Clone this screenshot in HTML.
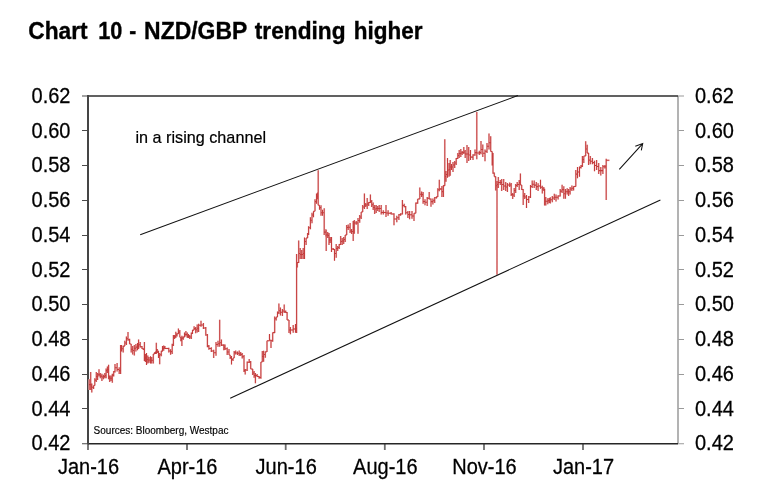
<!DOCTYPE html>
<html><head><meta charset="utf-8"><title>Chart 10 - NZD/GBP trending higher</title>
<style>
html,body{margin:0;padding:0;background:#fff;}
body{width:774px;height:502px;overflow:hidden;}
svg{display:block;will-change:transform;}
.t{font-family:"Liberation Sans",Arial,sans-serif;}
</style></head>
<body>
<svg width="774" height="502" viewBox="0 0 774 502">
<rect width="774" height="502" fill="#fff"/>
<g class="t" font-size="23.5" font-weight="bold" fill="#000" stroke="#000" stroke-width="0.35"><text x="28.3" y="38.7" textLength="59.4" lengthAdjust="spacingAndGlyphs">Chart</text><text x="98.2" y="38.7" textLength="24.1" lengthAdjust="spacingAndGlyphs">10</text><text x="129.2" y="38.7" textLength="7.0" lengthAdjust="spacingAndGlyphs">-</text><text x="144.1" y="38.7" textLength="103.2" lengthAdjust="spacingAndGlyphs">NZD/GBP</text><text x="254.8" y="38.7" textLength="90.7" lengthAdjust="spacingAndGlyphs">trending</text><text x="353.7" y="38.7" textLength="68.8" lengthAdjust="spacingAndGlyphs">higher</text></g>
<g fill="none" stroke-linecap="butt">
<path d="M82 96H88M82 130.5H88M82 165.5H88M82 200.5H88M82 235.5H88M82 269.5H88M82 304.5H88M82 339.5H88M82 374.5H88M82 408.5H88M82 443.7H88" stroke="#4a4a4a" stroke-width="1.1"/>
<path d="M678 96H684M678 130.5H684M678 165.5H684M678 200.5H684M678 235.5H684M678 269.5H684M678 304.5H684M678 339.5H684M678 374.5H684M678 408.5H684M678 443.7H684" stroke="#9a9a9a" stroke-width="1.1"/>
<path d="M88 443.5V450M187 443.5V450M285.7 443.5V450M384.8 443.5V450M484 443.5V450M583 443.5V450" stroke="#6e6e6e" stroke-width="1.8"/>
<path d="M678 96V443.5" stroke="#a6a6a6" stroke-width="1.7"/>
<path d="M88 96H678" stroke="#2c2c2c" stroke-width="1.7"/>
<path d="M88 443.7H678" stroke="#262626" stroke-width="1.4"/>
<path d="M88 95V444.3" stroke="#454545" stroke-width="2"/>
</g>
<g class="t" font-size="20" fill="#000" stroke="#000" stroke-width="0.25">
<text x="70.5" y="102.8" transform="matrix(1 0 0 1.07 0 -7.2)" text-anchor="end">0.62</text>
<text x="70.5" y="137.6" transform="matrix(1 0 0 1.07 0 -9.6)" text-anchor="end">0.60</text>
<text x="70.5" y="172.3" transform="matrix(1 0 0 1.07 0 -12.1)" text-anchor="end">0.58</text>
<text x="70.5" y="207.1" transform="matrix(1 0 0 1.07 0 -14.5)" text-anchor="end">0.56</text>
<text x="70.5" y="241.8" transform="matrix(1 0 0 1.07 0 -16.9)" text-anchor="end">0.54</text>
<text x="70.5" y="276.6" transform="matrix(1 0 0 1.07 0 -19.4)" text-anchor="end">0.52</text>
<text x="70.5" y="311.3" transform="matrix(1 0 0 1.07 0 -21.8)" text-anchor="end">0.50</text>
<text x="70.5" y="346.1" transform="matrix(1 0 0 1.07 0 -24.2)" text-anchor="end">0.48</text>
<text x="70.5" y="380.8" transform="matrix(1 0 0 1.07 0 -26.7)" text-anchor="end">0.46</text>
<text x="70.5" y="415.6" transform="matrix(1 0 0 1.07 0 -29.1)" text-anchor="end">0.44</text>
<text x="70.5" y="450.3" transform="matrix(1 0 0 1.07 0 -31.5)" text-anchor="end">0.42</text>
<text x="695" y="102.8" transform="matrix(1 0 0 1.07 0 -7.2)">0.62</text>
<text x="695" y="137.6" transform="matrix(1 0 0 1.07 0 -9.6)">0.60</text>
<text x="695" y="172.3" transform="matrix(1 0 0 1.07 0 -12.1)">0.58</text>
<text x="695" y="207.1" transform="matrix(1 0 0 1.07 0 -14.5)">0.56</text>
<text x="695" y="241.8" transform="matrix(1 0 0 1.07 0 -16.9)">0.54</text>
<text x="695" y="276.6" transform="matrix(1 0 0 1.07 0 -19.4)">0.52</text>
<text x="695" y="311.3" transform="matrix(1 0 0 1.07 0 -21.8)">0.50</text>
<text x="695" y="346.1" transform="matrix(1 0 0 1.07 0 -24.2)">0.48</text>
<text x="695" y="380.8" transform="matrix(1 0 0 1.07 0 -26.7)">0.46</text>
<text x="695" y="415.6" transform="matrix(1 0 0 1.07 0 -29.1)">0.44</text>
<text x="695" y="450.3" transform="matrix(1 0 0 1.07 0 -31.5)">0.42</text>
<text x="88.5" y="473.5" transform="matrix(1 0 0 1.07 0 -33.1)" text-anchor="middle">Jan-16</text>
<text x="187.5" y="473.5" transform="matrix(1 0 0 1.07 0 -33.1)" text-anchor="middle">Apr-16</text>
<text x="286.2" y="473.5" transform="matrix(1 0 0 1.07 0 -33.1)" text-anchor="middle">Jun-16</text>
<text x="385.3" y="473.5" transform="matrix(1 0 0 1.07 0 -33.1)" text-anchor="middle">Aug-16</text>
<text x="484.5" y="473.5" transform="matrix(1 0 0 1.07 0 -33.1)" text-anchor="middle">Nov-16</text>
<text x="583.5" y="473.5" transform="matrix(1 0 0 1.07 0 -33.1)" text-anchor="middle">Jan-17</text>
</g>
<text class="t" x="135.5" y="143.2" font-size="16.2" fill="#000" stroke="#000" stroke-width="0.2">in a rising channel</text>
<text class="t" x="93.6" y="434" font-size="10" fill="#000" stroke="#000" stroke-width="0.15">Sources: Bloomberg, Westpac</text>
<path d="M89.2 379.2V390M89.2 384.6H90.7M90.7 372V390M90.7 386.8H91.8M91.8 383.6V392.6M91.8 387.2H93.6M93.6 385.4V389M93.6 385.4H94.8M94.8 378.3V385.4M94.8 380.1H96.3M96.3 372V381.9M96.3 376.4H97.6M97.6 372.9V380M97.6 374.7H99M99 369.3V376.5M99 374.7H100.3M100.3 372.9V378.3M100.3 376.1H101.9M101.9 373.8V381M101.9 376.9H103.4M103.4 374.7V379.2M103.4 376.5H104.8M104.8 372.9V378.3M104.8 375.6H106.1M106.1 368.4V378.3M106.1 370.6H107.4M107.4 366.6V372.9M107.4 369.8H108.6M108.6 364.8V379.2M108.6 377.4H109.7M109.7 375.6V381.9M109.7 378.3H111M111 375.6V381M111 378.3H112.3M112.3 373.8V382.8M112.3 375.1H113.7M113.7 371.1V376.5M113.7 371.8H115M115 364.1V372.5M115 367.8H117.1M117.1 363V371.5M117.1 369.4H119.2M119.2 367.2V374.1M119.2 370.6H120.6M120.6 345.1V374.1M120.6 348.2H121.6M121.6 345.1V351.4M121.6 348.8H123.2M123.2 346.1V352.5M123.2 346.1H124.8M124.8 340.8V346.1M124.8 343H126.4M126.4 336.6V345.1M126.4 338.7H128M128 331.9V340.8M128 339.8H129.6M129.6 338.7V344M129.6 344H131.2M131.2 344V352.5M131.2 349.3H132.7M132.7 346.1V354.6M132.7 350.4H134.3M134.3 345.1V355.6M134.3 348.2H135.9M135.9 344V351.4M135.9 347.1H137.5M137.5 343V350.3M137.5 346.1H138.6M138.6 339.6V349.1M138.6 344.8H140.2M140.2 342V347.5M140.2 346.8H142M142 346V349.1M142 348.7H143.6M143.6 348.3V350M143.6 349.1H144.4M144.4 342V361.1M144.4 357.5H145.4M145.4 353.9V361.9M145.4 357.9H146.5M146.5 353.1V365M146.5 359.5H147.8M147.8 355.5V363.5M147.8 359.9H149M149 357.1V362.7M149 359.9H150.5M150.5 356.3V363.5M150.5 360.3H151.7M151.7 357.1V363.5M151.7 360.3H153.3M153.3 353.9V363.5M153.3 353.9H154.5M154.5 352.3V353.9M154.5 353.1H155.5M155.5 351.5V353.9M155.5 352.7H156.3M156.3 342.7V353.9M156.3 351.1H157.3M157.3 349.1V353.1M157.3 351.9H158.5M158.5 350.7V357.9M158.5 355.5H159.7M159.7 353.1V364.3M159.7 354.7H161.3M161.3 350.7V356.3M161.3 351.1H162.5M162.5 346V351.5M162.5 348.4H163.7M163.7 345.5V350.7M163.7 347.6H164.9M164.9 346V349.1M164.9 348.4H168.8M168.8 347.7V352.5M168.8 350.9H170.6M170.6 349.3V354.8M170.6 351.6H172.2M172.2 343.7V354M172.2 344.9H173.4M173.4 334.9V346.1M173.4 336.9H174.6M174.6 334.9V338.9M174.6 336.5H175.8M175.8 331.7V338.1M175.8 334.9H177M177 333.3V336.5M177 333.7H178.4M178.4 328.5V334.1M178.4 332.1H179.8M179.8 330.1V337.3M179.8 337.3H180.8M180.8 337.3V341.3M180.8 339.3H181.9M181.9 335.7V346.1M181.9 338.1H183.3M183.3 336.5V339.7M183.3 336.9H184.5M184.5 332.5V337.3M184.5 334.5H185.9M185.9 330.9V336.5M185.9 334.5H187.3M187.3 332.5V338.1M187.3 336.1H188.5M188.5 334.1V338.1M188.5 336.5H189.7M189.7 334.9V338.9M189.7 336.9H191.3M191.3 332.5V338.9M191.3 333.3H192.5M192.5 330.1V334.1M192.5 330.1H194.1M194.1 326.2V330.1M194.1 328.6H195.7M195.7 327V333.3M195.7 329.8H197.2M197.2 324.6V332.5M197.2 328.3H198.6M198.6 323.8V332M198.6 325.2H201M201 320.8V326.7M201 324.9H203.4M203.4 323V329M203.4 328H205.8M205.8 327V335.7M205.8 334.9H207.4M207.4 334V347.3M207.4 346.1H208.9M208.9 345V349.7M208.9 348.5H211.3M211.3 347.3V352M211.3 350.9H213.7M213.7 349.7V358M213.7 352.7H216M216 342V355.7M216 344.4H218M218 340.7V346.7M218 343.7H219.7M219.7 319.8V346.7M219.7 342.8H221.4M221.4 339.5V346M221.4 345.1H223.8M223.8 344.3V350.3M223.8 347.2H225M225 344.5V350M225 348.8H227.2M227.2 347.5V355M227.2 352H229M229 349V355M230.2 355V359M229 355H230.2M230.2 356V359M230.2 357.5H231.5M231.5 356V364.4M231.5 359.5H233M233 358V361M234.2 351V358M233 358H234.2M234.2 351V356M234.2 352.8H235.7M235.7 350.5V354.5M235.7 353H237.5M237.5 351.5V355M237.5 353.2H239.2M239.2 350.5V356M239.2 354H240.7M240.7 352V356M240.7 354.5H242.2M242.2 353V358.4M242.2 356.7H244M244 355V372M244 370.5H245.2M245.2 369V374.4M245.2 370H247.2M247.2 361.4V371M247.2 362.2H249.2M249.2 359V363M249.2 362H250.7M250.7 361V369M250.7 369H252.7M252.7 369V375M252.7 373H254.1M254.1 371V377.8M254.1 375.4H255.4M255.4 373V383.3M255.4 375.4H257.1M257.1 373.9V376.9M257.1 376.4H259.1M259.1 375.9V378.8M259.1 377.4H260.9M260.9 362V378.8M260.9 362H262.3M262.3 351V362M262.3 356.4H263.6M263.6 350.7V361.8M263.6 354.5H265.3M265.3 351.4V357.7M265.3 351.7H267M267 340.8V352M267 340.8H269.5M269.5 333.9V340.8M269.5 340.3H271M271 339.8V348M271 340.8H272.7M272.7 332.4V341.8M272.7 332.6H274.7M274.7 316.4V332.9M274.7 318.7H276.2M276.2 317V320.4M277.5 311.4V317M276.2 317H277.5M277.5 311.4V315M277.5 312.7H278.9M278.9 303.5V314M278.9 310.8H280.4M280.4 307.5V315.4M280.4 312.2H282.4M282.4 309V316M282.4 311H284.2M284.2 304.5V313M284.2 311.8H285.7M285.7 310.5V313M285.7 312.5H287.1M287.1 312V320M287.1 320H289M289 320V332.9M289 329.9H290.4M290.4 326.9V334.3M290.4 329.9H293.2M293.2 324.9V332.8M293.2 328.9H295.5M295.5 323.9V332.8M295.5 328.4H296.6M296.6 253.9V333M296.6 264.7H297.3M297.3 262V267.4M297.3 262.4H298.7M298.7 240.5V262.9M298.7 253.4H300.2M300.2 248V258.9M300.2 254.4H301.7M301.7 250V258.9M301.7 254.4H303.2M303.2 248V258.9M303.2 253.4H304.5M304.5 237.5V258.9M304.5 241.5H306.1M306.1 238V245M306.1 238H307.6M307.6 233V238M307.6 234H308.6M308.6 226.2V235M308.6 227.7H310.4M310.4 217.2V229.2M310.4 220.2H312M312 212.8V223.2M312 215H313.5M313.5 211.3V217.2M315 199.3V211.3M313.5 211.3H315M315 199.3V209.8M315 201.6H316.5M316.5 193.4V203.8M316.5 196.4H317.6M317.6 192.6V199.3M317.6 195.9H318.2M318.2 170.2V205.3M318.2 205.3H319.5M319.5 205.3V209.8M319.5 207.6H321M321 205.3V215.7M321 212.8H322.5M322.5 209.8V215.7M322.5 212.8H324.2M324.2 208.3V235.1M324.2 232.1H325.9M325.9 229.2V236.6M325.9 233.3H326.2M326.2 230V250.9M326.2 234.9H327.7M327.7 232V237.9M327.7 235.4H329M329 233V244.9M329 239.9H330.2M330.2 237V242.9M330.2 239.9H331.5M331.5 237V251.9M331.5 248.9H333.2M333.2 247.9V249.9M333.2 249.4H334.5M334.5 248.9V260.8M334.5 253.4H336.2M336.2 243.9V257.8M336.2 248.4H337.7M337.7 245.9V250.9M337.7 247.4H339.2M339.2 243.9V248.9M339.2 244.4H340.7M340.7 236V244.9M340.7 241.4H342.2M342.2 237.9V244.9M342.2 240.9H343.7M343.7 237V243.9M343.7 239.4H345.2M345.2 235V241.9M346.7 225V235M345.2 235H346.7M346.7 225V232.9M346.7 227.5H348.2M348.2 224.5V230M348.2 227.2H350.1M350.1 223V232.9M350.1 230.9H351.6M351.6 229V234M351.6 231.5H353.2M353.2 221V240.9M353.2 227.4H354.3M354.3 219.9V233.8M354.3 222.9H356.2M356.2 220.9V224.8M356.2 222.9H358M358 217.9V233.8M358 220.4H359.7M359.7 214.9V222.8M359.7 216.9H361.2M361.2 211.9V218.9M361.2 211.9H362.7M362.7 204.9V211.9M362.7 206.9H364.4M364.4 193.5V208.9M364.4 204.9H365.7M365.7 202.9V206.9M365.7 204.9H367.2M367.2 197.9V208.9M367.2 203.9H368.7M368.7 201.9V205.9M368.7 202.4H370.4M370.4 194.5V202.9M370.4 201.4H371.7M371.7 199.9V206.9M371.7 204.7H373.2M373.2 202.4V209.9M373.2 207.4H374.7M374.7 204.9V213.9M374.7 208.9H376.2M376.2 204.9V212.9M376.2 208.4H377.7M377.7 205.9V210.9M377.7 208.4H379.2M379.2 204.9V211.9M379.2 208.4H381.2M381.2 205V214.6M381.2 212.4H383.3M383.3 210.3V214.5M383.3 212.4H386M386 204.9V216.9M386 213H388.1M388.1 210.3V215.7M388.1 213.2H391.1M391.1 212V214.5M391.1 213.9H394M394 213.3V225.2M394 218.9H396.8M396.8 215.7V222.2M396.8 217.8H398.9M398.9 213.9V219.9M398.9 214.8H400.6M400.6 213.3V215.7M400.6 213.9H402.4M402.4 200V214.5M402.4 205.5H404.2M404.2 203.7V207.3M404.2 206.7H405.7M405.7 206V214.5M405.7 212.7H407.9M407.9 210.9V218M407.9 214.4H409.6M409.6 210.9V219.3M409.6 214.8H412M412 210.9V218.7M412 216H414M414 213.3V221M414 213.3H415.8M415.8 202.5V213.3M415.8 203.1H417.7M417.7 199V203.7M417.7 199H419.8M419.8 187.6V199M419.8 194.3H421.6M421.6 191.6V197.1M421.6 194.6H423.1M423.1 192V203.7M423.1 201.5H425M425 199.3V205.2M425 202.2H427.2M427.2 197.1V206M427.2 198.2H429.2M429.2 192V199.3M429.2 198.9H431M431 198.6V206.7M431 201.6H432.9M432.9 198.6V204.5M432.9 200.8H434.7M434.7 197.1V203M434.7 197.8H436.5M436.5 196.4V198.6M436.5 196.8H437.8M437.8 188.3V197.1M437.8 189.8H439.3M439.3 179.8V191.2M439.3 189H440.6M440.6 188.3V189.7M440.6 189H441.9M441.9 186.1V197.1M441.9 191.6H443.4M443.4 185.3V197.1M443.4 185.6H444.8M444.8 139.3V185.8M444.8 176.4H446M446 170.9V181.8M446 174.4H447.5M447.5 157.9V177.8M447.5 169.9H449M449 162.9V176.8M449 169.4H450.2M450.2 160V175.8M450.2 166.9H451.5M451.5 163.9V169.9M451.5 166.9H453M453 161.9V171.9M453 164.9H454.7M454.7 160.9V167.9M454.7 162.9H456.2M456.2 157.9V164.9M456.2 158.4H457.8M457.8 152.9V158.9M457.8 155.4H459.2M459.2 150V157.9M459.2 153.4H460.8M460.8 149V156.9M460.8 153H462.2M462.2 151V155M462.2 152.5H463.8M463.8 147V154M463.8 152H465.2M465.2 150V157.9M465.2 153.9H467M467 145V162.9M467 153.9H468.7M468.7 147V160.9M468.7 155H470.5M470.5 150V160M470.5 157.1H473M473 154.3V159.9M473 155H475M475 149.4V155.7M475 152.6H476.8M476.8 112V159.2M476.8 152.9H479.3M479.3 150.8V155M479.3 152.6H481M481 141V154.3M481 149.4H482.8M482.8 144.5V157.1M482.8 153.2H485M485 149.4V161.3M485 151.2H487M487 143.1V152.9M487 146.2H489M489 133.4V149.4M489 142.8H490.7M490.7 136.2V151.5M490.7 151.5H492.2M492.2 151.5V165.4M492.2 159.2H493M493 152.9V173.8M493 173.1H494.3M494.3 172.4V176.6M494.3 176.6H495.7M495.7 176.6V190.5M495.7 185.8H497M497 181V274.8M497 184.5H498.3M498.3 177V188M498.3 182.5H500.3M500.3 180V185M500.3 182.5H501.7M501.7 179V191M501.7 184.5H503.7M503.7 179V190M503.7 186H505.7M505.7 182V191M505.7 187H507.4M507.4 183V192M507.4 185H509.7M509.7 182.4V187M509.7 185H511.2M511.2 183V196M511.2 194.5H512.7M512.7 193V199M512.7 195H514.2M514.2 188V197M514.2 190.5H515.7M515.7 184V193M515.7 185.5H517.2M517.2 182V187M517.2 184.5H519.2M519.2 180V190M519.2 182.5H520.4M520.4 173.5V185M520.4 185H521.7M521.7 185V190M521.7 189.5H523.2M523.2 189V205M523.2 196H524.7M524.7 193V199M524.7 197H526.5M526.5 195V208M526.5 199.5H528.7M528.7 196V203M528.7 197H530.5M530.5 185V198M530.5 186.5H532.2M532.2 180.5V188M532.2 184.2H534.2M534.2 180.5V188M534.2 185.1H536.3M536.3 182.1V189.9M536.3 186.6H538.1M538.1 183.3V191.1M538.1 186H540.5M540.5 179.7V188.7M540.5 187.2H542.3M542.3 185.7V193.5M542.3 189H543.8M543.8 186.9V191.1M543.8 189.9H544.6M544.6 188.7V205.5M544.6 201.2H545.8M545.8 197V205.5M545.8 201.3H547.8M547.8 198.3V204.3M547.8 200.6H549.2M549.2 198V202.9M549.2 200.4H550.3M550.3 197.3V203.6M550.3 199.8H552.3M552.3 195.9V202.2M552.3 198H554.3M554.3 193.8V200.1M554.3 197.3H556M556 194.5V201.5M556 197.3H558.1M558.1 195.2V199.4M558.1 195.9H560.2M560.2 189V196.6M560.2 191.1H562.1M562.1 184.8V193.1M562.1 189.6H563.8M563.8 186.2V198.7M563.8 193.8H565.4M565.4 189V198.7M565.4 191.8H567.2M567.2 188.3V194.5M567.2 191.8H568.6M568.6 189V195.9M568.6 191.8H570.1M570.1 186.9V194.5M570.1 189H571.9M571.9 185.5V191.1M571.9 188.3H573.6M573.6 186.2V190.4M573.6 186.4H575.8M575.8 169.9V186.6M575.8 174.1H577.5M577.5 167.1V178.2M577.5 171.9H579.5M579.5 166.4V176.8M579.5 167.4H581M581 165V168.5M581 166.1H582.4M582.4 155.9V167.1M582.4 159.4H583.8M583.8 155.9V162.9M585.7 141.3V155.9M583.8 155.9H585.7M585.7 141.3V153.1M585.7 148.9H587.2M587.2 144.8V153.1M588.6 153.1V165M587.2 153.1H588.6M588.6 154.5V165M588.6 160.1H590.3M590.3 155.9V164.3M590.3 161.2H592.4M592.4 158V164.3M592.4 162.6H594.5M594.5 160.8V171.3M594.5 165.4H596.6M596.6 160.1V169.9M596.6 166.4H598.7M598.7 162.9V174.1M598.7 170.6H600.8M600.8 167.1V175.4M600.8 170.6H602.9M602.9 165V174.1M602.9 166.8H604.9M604.9 165V168.5M604.9 166.8H606.2M606.2 158.7V199.9M606.2 160.3H609.4" fill="none" stroke="#f4cccc" stroke-width="1.8" stroke-linejoin="miter"/>
<path d="M89.2 379.2V390M89.2 384.6H90.7M90.7 372V390M90.7 386.8H91.8M91.8 383.6V392.6M91.8 387.2H93.6M93.6 385.4V389M93.6 385.4H94.8M94.8 378.3V385.4M94.8 380.1H96.3M96.3 372V381.9M96.3 376.4H97.6M97.6 372.9V380M97.6 374.7H99M99 369.3V376.5M99 374.7H100.3M100.3 372.9V378.3M100.3 376.1H101.9M101.9 373.8V381M101.9 376.9H103.4M103.4 374.7V379.2M103.4 376.5H104.8M104.8 372.9V378.3M104.8 375.6H106.1M106.1 368.4V378.3M106.1 370.6H107.4M107.4 366.6V372.9M107.4 369.8H108.6M108.6 364.8V379.2M108.6 377.4H109.7M109.7 375.6V381.9M109.7 378.3H111M111 375.6V381M111 378.3H112.3M112.3 373.8V382.8M112.3 375.1H113.7M113.7 371.1V376.5M113.7 371.8H115M115 364.1V372.5M115 367.8H117.1M117.1 363V371.5M117.1 369.4H119.2M119.2 367.2V374.1M119.2 370.6H120.6M120.6 345.1V374.1M120.6 348.2H121.6M121.6 345.1V351.4M121.6 348.8H123.2M123.2 346.1V352.5M123.2 346.1H124.8M124.8 340.8V346.1M124.8 343H126.4M126.4 336.6V345.1M126.4 338.7H128M128 331.9V340.8M128 339.8H129.6M129.6 338.7V344M129.6 344H131.2M131.2 344V352.5M131.2 349.3H132.7M132.7 346.1V354.6M132.7 350.4H134.3M134.3 345.1V355.6M134.3 348.2H135.9M135.9 344V351.4M135.9 347.1H137.5M137.5 343V350.3M137.5 346.1H138.6M138.6 339.6V349.1M138.6 344.8H140.2M140.2 342V347.5M140.2 346.8H142M142 346V349.1M142 348.7H143.6M143.6 348.3V350M143.6 349.1H144.4M144.4 342V361.1M144.4 357.5H145.4M145.4 353.9V361.9M145.4 357.9H146.5M146.5 353.1V365M146.5 359.5H147.8M147.8 355.5V363.5M147.8 359.9H149M149 357.1V362.7M149 359.9H150.5M150.5 356.3V363.5M150.5 360.3H151.7M151.7 357.1V363.5M151.7 360.3H153.3M153.3 353.9V363.5M153.3 353.9H154.5M154.5 352.3V353.9M154.5 353.1H155.5M155.5 351.5V353.9M155.5 352.7H156.3M156.3 342.7V353.9M156.3 351.1H157.3M157.3 349.1V353.1M157.3 351.9H158.5M158.5 350.7V357.9M158.5 355.5H159.7M159.7 353.1V364.3M159.7 354.7H161.3M161.3 350.7V356.3M161.3 351.1H162.5M162.5 346V351.5M162.5 348.4H163.7M163.7 345.5V350.7M163.7 347.6H164.9M164.9 346V349.1M164.9 348.4H168.8M168.8 347.7V352.5M168.8 350.9H170.6M170.6 349.3V354.8M170.6 351.6H172.2M172.2 343.7V354M172.2 344.9H173.4M173.4 334.9V346.1M173.4 336.9H174.6M174.6 334.9V338.9M174.6 336.5H175.8M175.8 331.7V338.1M175.8 334.9H177M177 333.3V336.5M177 333.7H178.4M178.4 328.5V334.1M178.4 332.1H179.8M179.8 330.1V337.3M179.8 337.3H180.8M180.8 337.3V341.3M180.8 339.3H181.9M181.9 335.7V346.1M181.9 338.1H183.3M183.3 336.5V339.7M183.3 336.9H184.5M184.5 332.5V337.3M184.5 334.5H185.9M185.9 330.9V336.5M185.9 334.5H187.3M187.3 332.5V338.1M187.3 336.1H188.5M188.5 334.1V338.1M188.5 336.5H189.7M189.7 334.9V338.9M189.7 336.9H191.3M191.3 332.5V338.9M191.3 333.3H192.5M192.5 330.1V334.1M192.5 330.1H194.1M194.1 326.2V330.1M194.1 328.6H195.7M195.7 327V333.3M195.7 329.8H197.2M197.2 324.6V332.5M197.2 328.3H198.6M198.6 323.8V332M198.6 325.2H201M201 320.8V326.7M201 324.9H203.4M203.4 323V329M203.4 328H205.8M205.8 327V335.7M205.8 334.9H207.4M207.4 334V347.3M207.4 346.1H208.9M208.9 345V349.7M208.9 348.5H211.3M211.3 347.3V352M211.3 350.9H213.7M213.7 349.7V358M213.7 352.7H216M216 342V355.7M216 344.4H218M218 340.7V346.7M218 343.7H219.7M219.7 319.8V346.7M219.7 342.8H221.4M221.4 339.5V346M221.4 345.1H223.8M223.8 344.3V350.3M223.8 347.2H225M225 344.5V350M225 348.8H227.2M227.2 347.5V355M227.2 352H229M229 349V355M230.2 355V359M229 355H230.2M230.2 356V359M230.2 357.5H231.5M231.5 356V364.4M231.5 359.5H233M233 358V361M234.2 351V358M233 358H234.2M234.2 351V356M234.2 352.8H235.7M235.7 350.5V354.5M235.7 353H237.5M237.5 351.5V355M237.5 353.2H239.2M239.2 350.5V356M239.2 354H240.7M240.7 352V356M240.7 354.5H242.2M242.2 353V358.4M242.2 356.7H244M244 355V372M244 370.5H245.2M245.2 369V374.4M245.2 370H247.2M247.2 361.4V371M247.2 362.2H249.2M249.2 359V363M249.2 362H250.7M250.7 361V369M250.7 369H252.7M252.7 369V375M252.7 373H254.1M254.1 371V377.8M254.1 375.4H255.4M255.4 373V383.3M255.4 375.4H257.1M257.1 373.9V376.9M257.1 376.4H259.1M259.1 375.9V378.8M259.1 377.4H260.9M260.9 362V378.8M260.9 362H262.3M262.3 351V362M262.3 356.4H263.6M263.6 350.7V361.8M263.6 354.5H265.3M265.3 351.4V357.7M265.3 351.7H267M267 340.8V352M267 340.8H269.5M269.5 333.9V340.8M269.5 340.3H271M271 339.8V348M271 340.8H272.7M272.7 332.4V341.8M272.7 332.6H274.7M274.7 316.4V332.9M274.7 318.7H276.2M276.2 317V320.4M277.5 311.4V317M276.2 317H277.5M277.5 311.4V315M277.5 312.7H278.9M278.9 303.5V314M278.9 310.8H280.4M280.4 307.5V315.4M280.4 312.2H282.4M282.4 309V316M282.4 311H284.2M284.2 304.5V313M284.2 311.8H285.7M285.7 310.5V313M285.7 312.5H287.1M287.1 312V320M287.1 320H289M289 320V332.9M289 329.9H290.4M290.4 326.9V334.3M290.4 329.9H293.2M293.2 324.9V332.8M293.2 328.9H295.5M295.5 323.9V332.8M295.5 328.4H296.6M296.6 253.9V333M296.6 264.7H297.3M297.3 262V267.4M297.3 262.4H298.7M298.7 240.5V262.9M298.7 253.4H300.2M300.2 248V258.9M300.2 254.4H301.7M301.7 250V258.9M301.7 254.4H303.2M303.2 248V258.9M303.2 253.4H304.5M304.5 237.5V258.9M304.5 241.5H306.1M306.1 238V245M306.1 238H307.6M307.6 233V238M307.6 234H308.6M308.6 226.2V235M308.6 227.7H310.4M310.4 217.2V229.2M310.4 220.2H312M312 212.8V223.2M312 215H313.5M313.5 211.3V217.2M315 199.3V211.3M313.5 211.3H315M315 199.3V209.8M315 201.6H316.5M316.5 193.4V203.8M316.5 196.4H317.6M317.6 192.6V199.3M317.6 195.9H318.2M318.2 170.2V205.3M318.2 205.3H319.5M319.5 205.3V209.8M319.5 207.6H321M321 205.3V215.7M321 212.8H322.5M322.5 209.8V215.7M322.5 212.8H324.2M324.2 208.3V235.1M324.2 232.1H325.9M325.9 229.2V236.6M325.9 233.3H326.2M326.2 230V250.9M326.2 234.9H327.7M327.7 232V237.9M327.7 235.4H329M329 233V244.9M329 239.9H330.2M330.2 237V242.9M330.2 239.9H331.5M331.5 237V251.9M331.5 248.9H333.2M333.2 247.9V249.9M333.2 249.4H334.5M334.5 248.9V260.8M334.5 253.4H336.2M336.2 243.9V257.8M336.2 248.4H337.7M337.7 245.9V250.9M337.7 247.4H339.2M339.2 243.9V248.9M339.2 244.4H340.7M340.7 236V244.9M340.7 241.4H342.2M342.2 237.9V244.9M342.2 240.9H343.7M343.7 237V243.9M343.7 239.4H345.2M345.2 235V241.9M346.7 225V235M345.2 235H346.7M346.7 225V232.9M346.7 227.5H348.2M348.2 224.5V230M348.2 227.2H350.1M350.1 223V232.9M350.1 230.9H351.6M351.6 229V234M351.6 231.5H353.2M353.2 221V240.9M353.2 227.4H354.3M354.3 219.9V233.8M354.3 222.9H356.2M356.2 220.9V224.8M356.2 222.9H358M358 217.9V233.8M358 220.4H359.7M359.7 214.9V222.8M359.7 216.9H361.2M361.2 211.9V218.9M361.2 211.9H362.7M362.7 204.9V211.9M362.7 206.9H364.4M364.4 193.5V208.9M364.4 204.9H365.7M365.7 202.9V206.9M365.7 204.9H367.2M367.2 197.9V208.9M367.2 203.9H368.7M368.7 201.9V205.9M368.7 202.4H370.4M370.4 194.5V202.9M370.4 201.4H371.7M371.7 199.9V206.9M371.7 204.7H373.2M373.2 202.4V209.9M373.2 207.4H374.7M374.7 204.9V213.9M374.7 208.9H376.2M376.2 204.9V212.9M376.2 208.4H377.7M377.7 205.9V210.9M377.7 208.4H379.2M379.2 204.9V211.9M379.2 208.4H381.2M381.2 205V214.6M381.2 212.4H383.3M383.3 210.3V214.5M383.3 212.4H386M386 204.9V216.9M386 213H388.1M388.1 210.3V215.7M388.1 213.2H391.1M391.1 212V214.5M391.1 213.9H394M394 213.3V225.2M394 218.9H396.8M396.8 215.7V222.2M396.8 217.8H398.9M398.9 213.9V219.9M398.9 214.8H400.6M400.6 213.3V215.7M400.6 213.9H402.4M402.4 200V214.5M402.4 205.5H404.2M404.2 203.7V207.3M404.2 206.7H405.7M405.7 206V214.5M405.7 212.7H407.9M407.9 210.9V218M407.9 214.4H409.6M409.6 210.9V219.3M409.6 214.8H412M412 210.9V218.7M412 216H414M414 213.3V221M414 213.3H415.8M415.8 202.5V213.3M415.8 203.1H417.7M417.7 199V203.7M417.7 199H419.8M419.8 187.6V199M419.8 194.3H421.6M421.6 191.6V197.1M421.6 194.6H423.1M423.1 192V203.7M423.1 201.5H425M425 199.3V205.2M425 202.2H427.2M427.2 197.1V206M427.2 198.2H429.2M429.2 192V199.3M429.2 198.9H431M431 198.6V206.7M431 201.6H432.9M432.9 198.6V204.5M432.9 200.8H434.7M434.7 197.1V203M434.7 197.8H436.5M436.5 196.4V198.6M436.5 196.8H437.8M437.8 188.3V197.1M437.8 189.8H439.3M439.3 179.8V191.2M439.3 189H440.6M440.6 188.3V189.7M440.6 189H441.9M441.9 186.1V197.1M441.9 191.6H443.4M443.4 185.3V197.1M443.4 185.6H444.8M444.8 139.3V185.8M444.8 176.4H446M446 170.9V181.8M446 174.4H447.5M447.5 157.9V177.8M447.5 169.9H449M449 162.9V176.8M449 169.4H450.2M450.2 160V175.8M450.2 166.9H451.5M451.5 163.9V169.9M451.5 166.9H453M453 161.9V171.9M453 164.9H454.7M454.7 160.9V167.9M454.7 162.9H456.2M456.2 157.9V164.9M456.2 158.4H457.8M457.8 152.9V158.9M457.8 155.4H459.2M459.2 150V157.9M459.2 153.4H460.8M460.8 149V156.9M460.8 153H462.2M462.2 151V155M462.2 152.5H463.8M463.8 147V154M463.8 152H465.2M465.2 150V157.9M465.2 153.9H467M467 145V162.9M467 153.9H468.7M468.7 147V160.9M468.7 155H470.5M470.5 150V160M470.5 157.1H473M473 154.3V159.9M473 155H475M475 149.4V155.7M475 152.6H476.8M476.8 112V159.2M476.8 152.9H479.3M479.3 150.8V155M479.3 152.6H481M481 141V154.3M481 149.4H482.8M482.8 144.5V157.1M482.8 153.2H485M485 149.4V161.3M485 151.2H487M487 143.1V152.9M487 146.2H489M489 133.4V149.4M489 142.8H490.7M490.7 136.2V151.5M490.7 151.5H492.2M492.2 151.5V165.4M492.2 159.2H493M493 152.9V173.8M493 173.1H494.3M494.3 172.4V176.6M494.3 176.6H495.7M495.7 176.6V190.5M495.7 185.8H497M497 181V274.8M497 184.5H498.3M498.3 177V188M498.3 182.5H500.3M500.3 180V185M500.3 182.5H501.7M501.7 179V191M501.7 184.5H503.7M503.7 179V190M503.7 186H505.7M505.7 182V191M505.7 187H507.4M507.4 183V192M507.4 185H509.7M509.7 182.4V187M509.7 185H511.2M511.2 183V196M511.2 194.5H512.7M512.7 193V199M512.7 195H514.2M514.2 188V197M514.2 190.5H515.7M515.7 184V193M515.7 185.5H517.2M517.2 182V187M517.2 184.5H519.2M519.2 180V190M519.2 182.5H520.4M520.4 173.5V185M520.4 185H521.7M521.7 185V190M521.7 189.5H523.2M523.2 189V205M523.2 196H524.7M524.7 193V199M524.7 197H526.5M526.5 195V208M526.5 199.5H528.7M528.7 196V203M528.7 197H530.5M530.5 185V198M530.5 186.5H532.2M532.2 180.5V188M532.2 184.2H534.2M534.2 180.5V188M534.2 185.1H536.3M536.3 182.1V189.9M536.3 186.6H538.1M538.1 183.3V191.1M538.1 186H540.5M540.5 179.7V188.7M540.5 187.2H542.3M542.3 185.7V193.5M542.3 189H543.8M543.8 186.9V191.1M543.8 189.9H544.6M544.6 188.7V205.5M544.6 201.2H545.8M545.8 197V205.5M545.8 201.3H547.8M547.8 198.3V204.3M547.8 200.6H549.2M549.2 198V202.9M549.2 200.4H550.3M550.3 197.3V203.6M550.3 199.8H552.3M552.3 195.9V202.2M552.3 198H554.3M554.3 193.8V200.1M554.3 197.3H556M556 194.5V201.5M556 197.3H558.1M558.1 195.2V199.4M558.1 195.9H560.2M560.2 189V196.6M560.2 191.1H562.1M562.1 184.8V193.1M562.1 189.6H563.8M563.8 186.2V198.7M563.8 193.8H565.4M565.4 189V198.7M565.4 191.8H567.2M567.2 188.3V194.5M567.2 191.8H568.6M568.6 189V195.9M568.6 191.8H570.1M570.1 186.9V194.5M570.1 189H571.9M571.9 185.5V191.1M571.9 188.3H573.6M573.6 186.2V190.4M573.6 186.4H575.8M575.8 169.9V186.6M575.8 174.1H577.5M577.5 167.1V178.2M577.5 171.9H579.5M579.5 166.4V176.8M579.5 167.4H581M581 165V168.5M581 166.1H582.4M582.4 155.9V167.1M582.4 159.4H583.8M583.8 155.9V162.9M585.7 141.3V155.9M583.8 155.9H585.7M585.7 141.3V153.1M585.7 148.9H587.2M587.2 144.8V153.1M588.6 153.1V165M587.2 153.1H588.6M588.6 154.5V165M588.6 160.1H590.3M590.3 155.9V164.3M590.3 161.2H592.4M592.4 158V164.3M592.4 162.6H594.5M594.5 160.8V171.3M594.5 165.4H596.6M596.6 160.1V169.9M596.6 166.4H598.7M598.7 162.9V174.1M598.7 170.6H600.8M600.8 167.1V175.4M600.8 170.6H602.9M602.9 165V174.1M602.9 166.8H604.9M604.9 165V168.5M604.9 166.8H606.2M606.2 158.7V199.9M606.2 160.3H609.4" fill="none" stroke="#c43c3c" stroke-width="1.05" stroke-linejoin="miter"/>
<g stroke="#111" stroke-width="1.05" fill="none" stroke-linecap="butt">
<path d="M140.2 234.7L517.9 95.6"/>
<path d="M230.2 398.3L660.4 200"/>
<path d="M619.3 169.3L642.7 143.6M635.3 146.2L642.7 143.6L641.3 150.3"/>
</g>
</svg>
</body></html>
